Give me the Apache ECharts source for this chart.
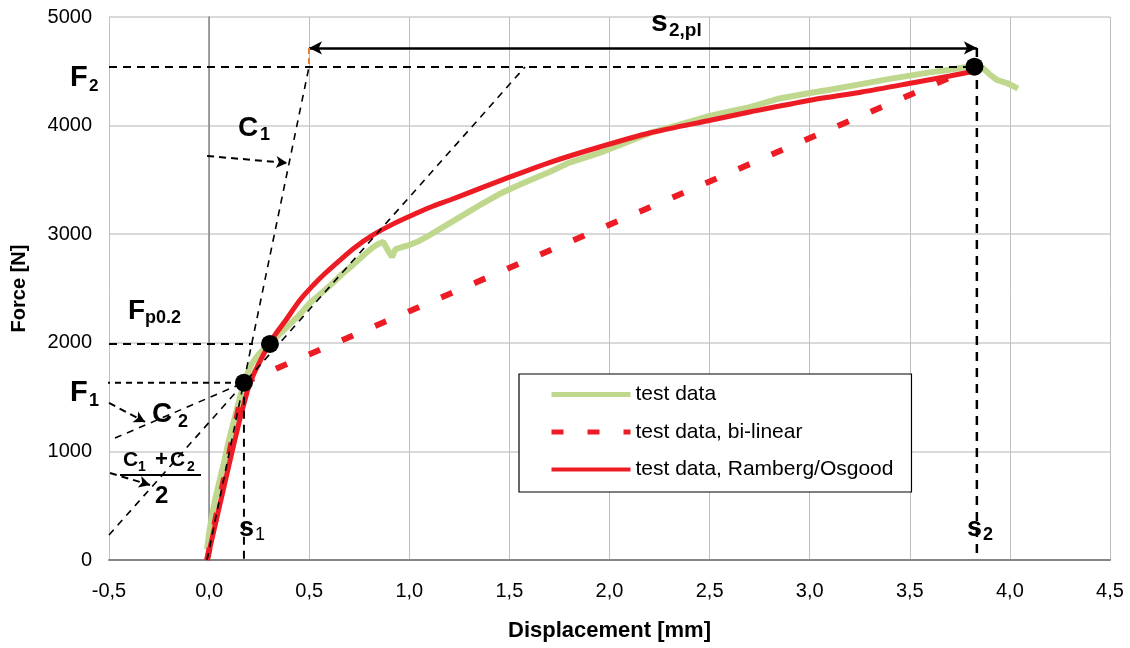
<!DOCTYPE html>
<html><head><meta charset="utf-8">
<script src="https://cdn.jsdelivr.net/npm/echarts@6/dist/echarts.min.js"></script>
<style>html,body{margin:0;padding:0;background:#fff}#c{width:1130px;height:648px}</style>
</head><body><div id="c"></div>
<script>
// ---- data (x = displacement [mm], y = force [N]) ----
const testData = [[-0.01,100],[0.0,250],[0.03,560],[0.069,856],[0.10,1110],[0.139,1390],[0.174,1633],[0.21,1800],[0.25,1900],[0.304,1995],[0.35,2075],[0.40,2165],[0.45,2255],[0.504,2366],[0.55,2440],[0.60,2520],[0.669,2640],[0.72,2720],[0.78,2820],[0.819,2880],[0.85,2915],[0.87,2930],[0.89,2860],[0.914,2790],[0.93,2860],[0.96,2880],[1.0,2900],[1.04,2930],[1.10,2990],[1.20,3100],[1.30,3210],[1.37,3287],[1.45,3370],[1.55,3455],[1.70,3573],[1.80,3660],[1.95,3748],[2.05,3820],[2.20,3930],[2.35,4010],[2.50,4090],[2.60,4130],[2.70,4170],[2.85,4250],[3.0,4300],[3.10,4330],[3.25,4380],[3.40,4430],[3.50,4460],[3.60,4490],[3.70,4515],[3.80,4545],[3.865,4530],[3.90,4470],[3.935,4420],[3.985,4392],[4.01,4370],[4.04,4340]];
const bilinear = [[-0.01,0],[0.174,1633],[3.823,4540]];
const rambergOsgood = [[-0.01,0],[0.05,480],[0.10,880],[0.15,1270],[0.18,1480],[0.20,1610],[0.23,1740],[0.26,1850],[0.29,1955],[0.33,2075],[0.38,2200],[0.454,2394],[0.52,2530],[0.58,2640],[0.654,2762],[0.73,2880],[0.819,2993],[0.92,3095],[1.038,3195],[1.12,3260],[1.203,3315],[1.35,3420],[1.50,3525],[1.70,3660],[1.95,3803],[2.20,3932],[2.51,4052],[2.70,4125],[3.01,4236],[3.26,4309],[3.51,4392],[3.70,4457],[3.84,4510]];
const keyPoints = [[0.174,1633],[0.304,1990],[3.823,4542]]; // F1, Fp0.2, F2
// annotation lines
const lineF2 = [[-0.5,4540],[3.823,4540]];
const lineFp02 = [[-0.5,1990],[0.219,1990]];
const lineF1 = [[-0.525,1633],[0.174,1633]];
const lineS1 = [[0.174,1633],[0.174,0]];
const lineS2 = [[3.835,4715],[3.835,0]];
const lineC1 = [[-0.0105,0],[0.499,4540]];
const lineC2 = [[-0.47,1123],[0.174,1633]];
const lineMean = [[-0.5,230],[1.578,4540]];
const tickOrange = [[0.499,4715],[0.499,4540]];
const arrowS2pl = [[0.499,4715],[3.835,4715]];
const arrowC1 = [[-0.01,3720],[0.39,3656]];
const arrowC2 = [[-0.5,1446],[-0.32,1271]];
const arrowMean = [[-0.495,801],[-0.295,691]];
const xTickFormat = v => v.toFixed(1).replace('.', ',');
const yTickFormat = v => String(v);

const FONT = "'Liberation Sans', Arial, sans-serif";
const chart = echarts.init(document.getElementById('c'), null, {renderer:'canvas'});

function annot(name, data, color, width, dash, z) {
  return {name, type:'line', data, symbol:'none', silent:true, clip:false, z: z||5,
    lineStyle:{color, width, type: dash}, emphasis:{disabled:true}, animation:false};
}
function arrowML(pair, dash, width, curv, symbols, size) {
  return {
    silent:true, animation:false, symbol: symbols || ['none','arrow'], symbolSize: size || [9,11],
    label:{show:false}, emphasis:{disabled:true},
    lineStyle:{color:'#000', width, type:dash, curveness:curv||0},
    data:[[{coord:pair[0]},{coord:pair[1]}]]
  };
}

// text labels: [text, fontSize, bold, left x, baseline y]
const texts = [
  ['F',29,true,70,88],['2',17,true,89,92],
  ['C',28,true,238,138],['1',18,true,260,141],
  ['F',28,true,128,321],['p0.2',18,true,145,324],
  ['F',29,true,70,403],['1',18,true,89,407],
  ['C',28,true,152,424],['2',18,true,178,428],
  ['C',21,true,123,468],['1',14,true,138,472],['+',22,true,155,468],['C',21,true,170,468],['2',14,true,187,472],
  ['2',24,true,155,505],
  ['s',27,true,239,538],['1',18,false,255,541],
  ['s',27,true,967,538],['2',18,true,983,541],
  ['s',30,true,651,33],['2,pl',19,true,669,37]
];
const graphics = texts.map(t => ({
  type:'text', z:100, silent:true,
  style:{text:t[0], x:t[3], y:t[4]-0.35*t[1], font:(t[2]?'bold ':'')+t[1]+'px '+FONT,
    fill:'#000', textAlign:'left', textVerticalAlign:'middle', align:'left', verticalAlign:'middle'}
}));
graphics.push({type:'line', z:100, silent:true, shape:{x1:120,y1:475,x2:201,y2:475}, style:{stroke:'#000', lineWidth:2}});

const option = {
  animation:false,
  backgroundColor:'#fff',
  grid:{left:109, right:20, top:17, bottom:88, containLabel:false},
  xAxis:{type:'value', min:-0.5, max:4.5, interval:0.5,
    name:'Displacement [mm]', nameLocation:'middle', nameGap:60,
    nameTextStyle:{fontFamily:FONT, fontWeight:'bold', fontSize:22, color:'#000'},
    axisLine:{show:true, onZero:false, lineStyle:{color:'#868686', width:2}},
    axisTick:{show:false},
    axisLabel:{formatter:xTickFormat, fontFamily:FONT, fontSize:20, color:'#000', margin:21},
    splitLine:{show:true, lineStyle:{color:'#c0c0c0', width:1}}},
  yAxis:{type:'value', min:0, max:5000, interval:1000,
    name:'Force [N]', nameLocation:'middle', nameGap:80, nameRotate:90,
    nameTextStyle:{fontFamily:FONT, fontWeight:'bold', fontSize:20, color:'#000'},
    axisLine:{show:true, lineStyle:{color:'#868686', width:1.5}},
    axisTick:{show:false},
    axisLabel:{formatter:yTickFormat, fontFamily:FONT, fontSize:20, color:'#000', margin:17},
    splitLine:{show:true, lineStyle:{color:'#d9d9d9', width:2}}},
  legend:{
    orient:'vertical', left:519, top:374, padding:[10,18,12,30], itemGap:16.5,
    itemWidth:79, itemHeight:14, backgroundColor:'#fff', borderColor:'#000', borderWidth:1.2,
    itemStyle:{opacity:0},
    textStyle:{fontFamily:FONT, fontSize:21, color:'#000'},
    data:[
      {name:'test data', lineStyle:{width:5}, itemStyle:{opacity:0}},
      {name:'test data, bi-linear', lineStyle:{width:5}, itemStyle:{opacity:0}},
      {name:'test data, Ramberg/Osgood', lineStyle:{width:4}, itemStyle:{opacity:0}}
    ]
  },
  series:[
    {name:'test data', type:'line', data:testData, symbol:'none', z:2, silent:true,
      lineStyle:{color:'#bfd88e', width:6}, itemStyle:{color:'#bfd88e'}},
    {name:'test data, bi-linear', type:'line', data:bilinear, symbol:'none', z:3, silent:true,
      lineStyle:{color:'#ed1c24', width:6, type:[12,24], cap:'butt'}, itemStyle:{color:'#ed1c24'}},
    {name:'test data, Ramberg/Osgood', type:'line', data:rambergOsgood, symbol:'none', z:4, silent:true, smooth:0.3,
      lineStyle:{color:'#ed1c24', width:5}, itemStyle:{color:'#ed1c24'}},
    annot('aF2', lineF2, '#000', 2, [8,6]),
    annot('aFp02', lineFp02, '#000', 2, [8,6]),
    annot('aF1', lineF1, '#000', 2, [6,5]),
    annot('aS1', lineS1, '#000', 2, [8,6]),
    annot('aS2', lineS2, '#000', 2.5, [9,7]),
    annot('aC1', lineC1, '#000', 1.6, [7,6]),
    annot('aC2', lineC2, '#000', 1.6, [7,6]),
    annot('aMean', lineMean, '#000', 1.6, [7,6]),
    annot('aOrange', tickOrange, '#ed7d31', 2, [6,4]),
    {name:'arrows', type:'line', data:[], symbol:'none', silent:true, z:6,
      markLine: arrowML(arrowS2pl, 'solid', 2.5, 0, ['arrow','arrow'], [10,13])},
    {name:'arrC1', type:'line', data:[], symbol:'none', silent:true, z:6,
      markLine: arrowML(arrowC1, [7,5], 2, 0)},
    {name:'arrC2', type:'line', data:[], symbol:'none', silent:true, z:6,
      markLine: arrowML(arrowC2, [7,5], 2, -0.25)},
    {name:'arrMean', type:'line', data:[], symbol:'none', silent:true, z:6,
      markLine: arrowML(arrowMean, [7,5], 2, -0.2)},
    {name:'points', type:'scatter', data:keyPoints, symbol:'circle', symbolSize:18, z:10, silent:true,
      itemStyle:{color:'#000', opacity:1}}
  ],
  graphic: graphics
};
chart.setOption(option);
</script></body></html>
